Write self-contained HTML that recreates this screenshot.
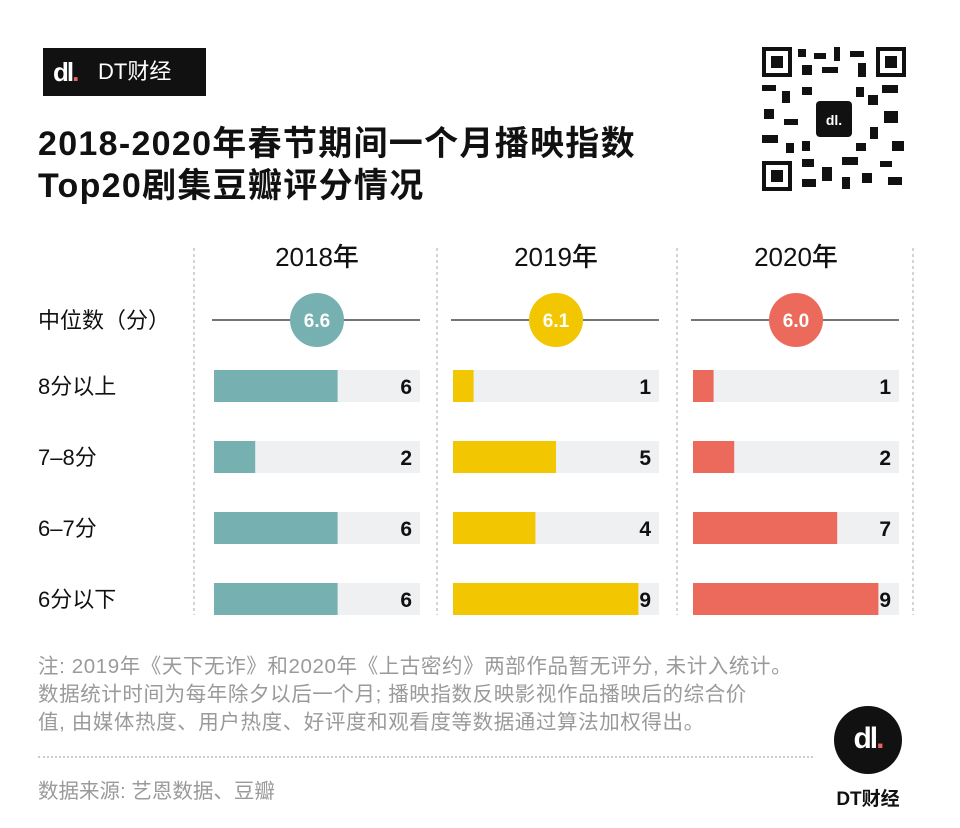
<!DOCTYPE html>
<html><head><meta charset="utf-8"><style>
body{margin:0;width:960px;height:828px;background:#fff;position:relative;overflow:hidden;font-family:"Liberation Sans","Noto Sans CJK SC",sans-serif;}
.a{position:absolute;}
</style></head><body>
<div class="a" style="left:43px;top:48px;width:163px;height:48px;background:#111;">
 <div class="a" style="left:10px;top:12px;font:bold 26px 'Liberation Sans',sans-serif;color:#fff;line-height:24px;letter-spacing:-2px">dl<span style="color:#e8665a">.</span></div>
 <div class="a" style="left:55px;top:11px;font-size:22px;color:#fff;line-height:26px">DT财经</div>
</div>
<div class="a" style="left:38px;top:123px;font-size:34px;font-weight:600;line-height:42px;letter-spacing:1.3px;color:#111;font-family:'Liberation Sans','Noto Sans CJK SC',sans-serif">2018-2020年春节期间一个月播映指数<br>Top20剧集豆瓣评分情况</div>
<svg class="a" style="left:762px;top:47px" width="144" height="144" viewBox="0 0 144 144">
 <g fill="#111">
  <rect x="0" y="0" width="30" height="30"/><rect x="114" y="0" width="30" height="30"/><rect x="0" y="114" width="30" height="30"/>
 </g>
 <g fill="#fff"><rect x="4" y="4" width="22" height="22"/><rect x="118" y="4" width="22" height="22"/><rect x="4" y="118" width="22" height="22"/></g>
 <g fill="#111"><rect x="9" y="9" width="12" height="12"/><rect x="123" y="9" width="12" height="12"/><rect x="9" y="123" width="12" height="12"/>
 <rect x="36" y="2" width="8" height="8"/><rect x="52" y="6" width="12" height="6"/><rect x="72" y="0" width="6" height="14"/><rect x="88" y="4" width="14" height="6"/>
 <rect x="40" y="18" width="10" height="10"/><rect x="60" y="20" width="16" height="6"/><rect x="96" y="16" width="8" height="14"/>
 <rect x="0" y="38" width="14" height="6"/><rect x="20" y="44" width="8" height="12"/><rect x="120" y="38" width="16" height="8"/><rect x="106" y="48" width="10" height="10"/>
 <rect x="2" y="62" width="10" height="10"/><rect x="22" y="72" width="14" height="6"/><rect x="122" y="64" width="14" height="12"/><rect x="108" y="80" width="8" height="12"/>
 <rect x="0" y="88" width="16" height="8"/><rect x="24" y="96" width="8" height="10"/><rect x="130" y="94" width="12" height="10"/>
 <rect x="40" y="112" width="12" height="8"/><rect x="60" y="120" width="10" height="14"/><rect x="80" y="110" width="16" height="8"/><rect x="100" y="126" width="10" height="10"/><rect x="118" y="114" width="12" height="6"/><rect x="40" y="132" width="14" height="8"/><rect x="80" y="130" width="8" height="12"/><rect x="126" y="130" width="14" height="8"/>
 <rect x="40" y="40" width="10" height="8"/><rect x="94" y="40" width="8" height="10"/><rect x="40" y="94" width="8" height="10"/><rect x="94" y="96" width="10" height="8"/>
 <rect x="54" y="54" width="36" height="36" rx="4"/></g>
 <text x="72" y="78" text-anchor="middle" fill="#fff" font-size="14" font-weight="bold" font-family="Liberation Sans">dl.</text>
</svg>
<svg class="a" style="left:0;top:0" width="960" height="828" id="chart"></svg>
<div class="a" style="left:38px;top:653px;font-size:20.5px;line-height:28px;letter-spacing:0.6px;color:#9a9a9a;width:800px;white-space:nowrap">注: 2019年《天下无诈》和2020年《上古密约》两部作品暂无评分, 未计入统计。<br>数据统计时间为每年除夕以后一个月; 播映指数反映影视作品播映后的综合价<br>值, 由媒体热度、用户热度、好评度和观看度等数据通过算法加权得出。</div>
<div class="a" style="left:38px;top:756px;width:775px;border-top:2px dotted #ccc"></div>
<div class="a" style="left:38px;top:779px;font-size:20.5px;line-height:26px;color:#9a9a9a">数据来源: 艺恩数据、豆瓣</div>
<div class="a" style="left:834px;top:706px;width:68px;height:68px;border-radius:50%;background:#111;color:#fff;font:bold 30px 'Liberation Sans',sans-serif;text-align:center;line-height:66px;letter-spacing:-2px">dl<span style="color:#e8665a">.</span></div>
<div class="a" style="left:828px;top:784px;width:80px;text-align:center;font-size:19px;font-weight:bold;color:#111">DT财经</div>
<script>
const years=["2018年","2019年","2020年"];
const medians=[6.6,6.1,6.0];
const categories=["中位数（分）","8分以上","7–8分","6–7分","6分以下"];
const counts2018=[6,2,6,6];
const counts2019=[1,5,4,9];
const counts2020=[1,2,7,9];
const series=[counts2018,counts2019,counts2020];
const colors=["#77b0b0","#f2c600","#ec6a5c"];
const svg=document.getElementById('chart');
const NS="http://www.w3.org/2000/svg";
const panelX=[214,453,693], trackW=206, unit=20.6;
const rowY=i=>386+i*71;
const xv=(p,v)=>panelX[p]+v*unit;
function mk(t,a,parent){const e=document.createElementNS(NS,t);for(const k in a)e.setAttribute(k,a[k]);(parent||svg).appendChild(e);return e;}
[194,437,677,913].forEach(x=>{const l=mk('line',{x1:x,y1:248,x2:x,y2:615,stroke:'#aaa','stroke-width':1,'stroke-dasharray':'3,3'});

});
categories.forEach((c,i)=>{const t=mk('text',{x:38,y:(i==0?320:rowY(i-1))+8,'font-size':22,fill:'#111','font-family':'Liberation Sans, Noto Sans CJK SC, sans-serif'});t.textContent=c;

});
years.forEach((y,p)=>{
 const cx=panelX[p]+trackW/2;
 const h=mk('text',{x:cx,y:266,'text-anchor':'middle','font-size':26,'font-weight':500,fill:'#111','font-family':'Liberation Sans, Noto Sans CJK SC, sans-serif'});h.textContent=y;
 
 
 const ln=mk('line',{x1:panelX[p]-2,y1:320,x2:panelX[p]+trackW,y2:320,stroke:'#222','stroke-width':1.2});
 
 
 const c=mk('circle',{cx:cx,cy:320,r:27,fill:colors[p]});
 
 
 const mt=mk('text',{x:cx,y:327,'text-anchor':'middle','font-size':19,'font-weight':'bold',fill:'#fff'});mt.textContent=medians[p].toFixed(1);
 
 
 series[p].forEach((v,i)=>{
  const tr=mk('rect',{x:panelX[p],y:rowY(i)-16,width:trackW,height:32,fill:'#eff0f2'});
  
  
  const b=mk('rect',{x:panelX[p],y:rowY(i)-16,width:xv(p,v)-panelX[p],height:32,fill:colors[p]});
  
  
  const t=mk('text',{x:panelX[p]+trackW-8,y:rowY(i)+8,'text-anchor':'end','font-size':21,'font-weight':'bold',fill:'#111'});t.textContent=v;
  
  
 });
});
</script>
</body></html>
